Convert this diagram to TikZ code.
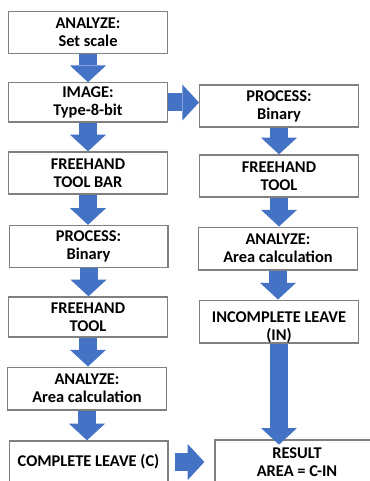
\documentclass[tikz,border=0pt]{standalone}
\usepackage{fontspec}
\setmainfont{Carlito}
\usetikzlibrary{arrows.meta}
\definecolor{arrowblue}{HTML}{4472C4}
\definecolor{boxgray}{HTML}{808080}

\begin{document}
\begin{tikzpicture}[x=0.75pt,y=-0.75pt,
    stepbox/.style={draw=boxgray,line width=1pt,fill=white,minimum width=119pt,minimum height=31.5pt,inner sep=0pt,align=center,font=\fontsize{12.3}{13.5}\selectfont\bfseries},
    steptext/.style={inner sep=0pt,align=center,font=\fontsize{12.3}{13.5}\selectfont\bfseries},
    blockarrow/.style={draw=arrowblue,line width=13.5pt,-{Triangle[width=27pt,length=12.5pt,line width=0pt]}}]
  \clip (0,0) rectangle (370,481);
  % left column
  \node[stepbox] (scale) at (88,32.5) {ANALYZE:\\Set scale};
  \node[stepbox,minimum height=29.5pt] (image) at (88,102.5) {IMAGE:\\Type-8-bit};
  \node[stepbox] (toolbar) at (88,173) {FREEHAND\\TOOL BAR};
  \node[stepbox] (binary) at (88.5,246.5) {PROCESS:\\Binary};
  \node[stepbox,minimum height=30pt] (freehand) at (88,317) {FREEHAND\\TOOL};
  \node[stepbox,minimum height=32pt] (area) at (87,388.5) {ANALYZE:\\Area calculation};
  \node[stepbox] (complete) at (88.5,462) {COMPLETE LEAVE (C)};
  % right column
  \node[stepbox] (binaryR) at (279,106) {PROCESS:\\Binary};
  \node[stepbox] (freehandR) at (279,176) {FREEHAND\\TOOL};
  \node[stepbox,minimum height=32pt] (areaR) at (278,248.5) {ANALYZE:\\Area calculation};
  \node[stepbox,minimum height=32pt] (incomplete) at (279,321.5) {};
  \node[steptext,anchor=north] (incompletetext) at (279,311.5) {INCOMPLETE LEAVE\\(IN)};
  \node[stepbox,minimum width=123pt,minimum height=33pt] (result) at (297,462) {RESULT\\AREA = C-IN};
  % arrows
  \draw[blockarrow] (scale.south) -- (image.north);
  \draw[blockarrow] (image.south) -- (toolbar.north);
  \draw[blockarrow] (toolbar.south) -- (toolbar.south |- binary.north);
  \draw[blockarrow] (binary.south) -- (binary.south |- freehand.north);
  \draw[blockarrow] (freehand.south) -- (freehand.south |- area.north);
  \draw[blockarrow] (area.south) -- (area.south |- complete.north);
  \draw[blockarrow] (image.east) -- (image.east -| binaryR.west);
  \draw[blockarrow] (binaryR.south) -- (freehandR.north);
  \draw[blockarrow] (freehandR.south) -- (freehandR.south |- areaR.north);
  \draw[blockarrow] (areaR.south) -- (areaR.south |- incomplete.north);
  \draw[blockarrow,shorten >=-4pt] (incomplete.south) -- (incomplete.south |- result.north);
  \draw[blockarrow,shorten <=4.5pt,shorten >=7.5pt] (complete.east) -- (complete.east -| result.west);
\end{tikzpicture}
\end{document}
